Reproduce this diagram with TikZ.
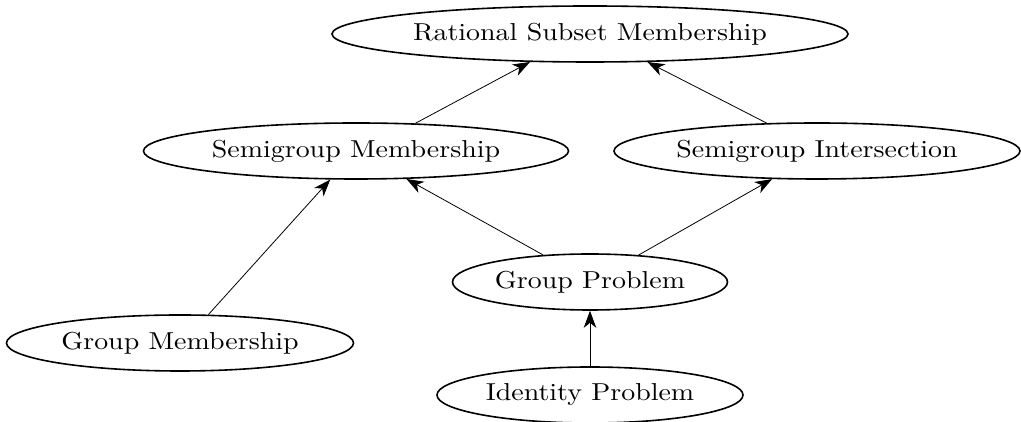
\documentclass[tikz,border=0pt]{standalone}
\usepackage{fontspec}
\setmainfont{lmroman10-regular.otf}[FakeStretch=1.14]
\usetikzlibrary{shapes.geometric,arrows.meta}
\tikzset{
  prob/.style={ellipse, draw, line width=1.6pt, inner sep=0pt, minimum height=56pt, font=\fontsize{24.5}{29}\selectfont},
  reduce/.style={line width=0.8pt, -{Stealth[length=17pt,width=12.5pt,inset=5pt]}}
}
\begin{document}
\begin{tikzpicture}[x=1pt,y=1pt]
\useasboundingbox (0,0) rectangle (1021,422);
\node[prob, minimum width=516pt] (rsm) at (590,388) {Rational Subset Membership};
\node[prob, minimum width=425pt] (sm) at (356,271) {Semigroup Membership};
\node[prob, minimum width=406pt] (si) at (817,271) {Semigroup Intersection};
\node[prob, minimum width=275pt] (gp) at (590,140) {Group Problem};
\node[prob, minimum width=347pt] (gm) at (180,79) {Group Membership};
\node[prob, minimum width=306pt] (ip) at (590,27) {Identity Problem};
\draw[reduce] (sm.25.3) -- (rsm.205.8);
\draw[reduce] (si.151.6) -- (rsm.334.6);
\draw[reduce] (gm.45) -- (sm.228);
\draw[reduce] (gp.150.3) -- (sm.331.3);
\draw[reduce] (gp.29.2) -- (si.212.2);
\draw[reduce] (ip.north) -- (gp.south);
\end{tikzpicture}
\end{document}
